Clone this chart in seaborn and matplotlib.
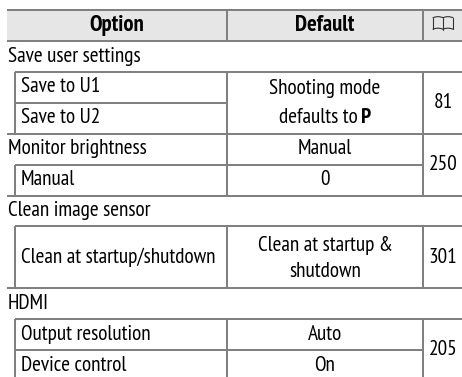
import matplotlib
matplotlib.use("Agg")
import matplotlib.pyplot as plt
import matplotlib.font_manager as fm
import numpy as np
import seaborn as sns

sns.set_theme(style="white")
installed = {f.name for f in fm.fontManager.ttflist}
FONT = next(n for n in ["PT Sans Narrow", "Open Sans Condensed", "Roboto Condensed", "Liberation Sans Narrow", "Open Sans"] if n in installed)
plt.rcParams["font.family"] = [FONT, "DejaVu Sans"]

# table content
header = ["Option", "Default"]
sections = ["Save user settings", "Monitor brightness", "Clean image sensor", "HDMI"]
section_rows = [1, 4, 6, 9]
options = ["Save to U1", "Save to U2", "Manual", "Clean at startup/shutdown", "Output resolution", "Device control"]
option_rows = [2, 3, 5, 7.5, 10, 11]
defaults = ["Manual", "0", "Auto", "On"]
default_rows = [4, 5, 10, 11]
pages = ["81", "250", "301", "205"]
page_rows = [2.5, 4.5, 7.5, 10.5]

W, H = 462, 377
TOP, ROW = 10.0, 30.92
X0, XI, X1, X2, X3 = 7, 15, 227, 423, 462
GREY = "#808080"
FS = 15.3
y = lambda r: TOP + r * ROW
yc = lambda r: y(r) + ROW / 2 - 0.3

fig = plt.figure(figsize=(W / 100, H / 100), dpi=100, facecolor="white")

# header shading through seaborn's heatmap
hax = fig.add_axes([X0 / W, 1 - y(1) / H, (X3 - X0) / W, ROW / H])
sns.heatmap(np.array([[1.0]]), ax=hax, cbar=False, cmap=["#e6e6e6"],
            xticklabels=False, yticklabels=False)

ax = fig.add_axes([0, 0, 1, 1])
ax.patch.set_alpha(0)
ax.set_xlim(0, W)
ax.set_ylim(H, 0)
ax.axis("off")

def h(r, a, b):
    ax.plot([a, b], [y(r), y(r)], color=GREY, lw=1.45, solid_capstyle="butt")

def v(x, r0, r1):
    ax.plot([x, x], [y(r0), min(y(r1), H)], color=GREY, lw=1.45, solid_capstyle="butt")

h(0, X0, X3); h(1, X0, X3)
h(2, XI, X3); h(3, XI, X1); h(4, X0, X3)
h(5, XI, X2); h(6, X0, X3); h(7, XI, X3)
h(9, X0, X3); h(10, XI, X3); h(11, XI, X2)
for x in (X1, X2):
    v(x, 0, 1); v(x, 2, 6); v(x, 7, 9); v(x, 10, 12)
v(XI, 2, 4); v(XI, 5, 6); v(XI, 7, 9); v(XI, 10, 12)

kw = dict(va="center", fontsize=FS, color="black")
bold = dict(va="center", fontsize=16.3, color="black", fontweight="bold")
XOPT, XDEF, XPAGE = 117, 325, 443
ax.text(XOPT, yc(0), header[0], ha="center", **bold)
ax.text(XDEF, yc(0), header[1], ha="center", **bold)
for s, r in zip(sections, section_rows):
    ax.text(8, yc(r), s, ha="left", **kw)
for s, r in zip(options, option_rows):
    ax.text(21, yc(r), s, ha="left", **kw)
for s, r in zip(defaults, default_rows):
    ax.text(XDEF, yc(r), s, ha="center", **kw)
for s, r in zip(pages, page_rows):
    ax.text(XPAGE, yc(r), s, ha="center", **kw)

ax.text(XDEF, yc(2.06), "Shooting mode", ha="center", **kw)
ax.text(XDEF, yc(7.12), "Clean at startup &", ha="center", **kw)
ax.text(XDEF, yc(7.97), "shutdown", ha="center", **kw)

# mixed-weight line, centred as a whole
fig.canvas.draw()
r = fig.canvas.get_renderer()
t1 = ax.text(0, yc(3), "defaults to", ha="left", **kw)
t2 = ax.text(0, yc(3), "P", ha="left", fontweight="bold", va="center", fontsize=FS, color="black")
w1 = t1.get_window_extent(r).width + 4
w2 = t2.get_window_extent(r).width
t1.set_x(XDEF - (w1 + w2) / 2)
t2.set_x(XDEF - (w1 + w2) / 2 + w1)

# book icon in the page column header
ic = dict(color="#333333", lw=0.8, solid_joinstyle="round")
bx, by = XPAGE, yc(0)
t = np.linspace(-1, 1, 20)
for sgn in (-1, 1):
    xs = bx + sgn * (t + 1) / 2 * 10
    ax.plot(xs, by - 7.5 - 1.0 * np.sin((t + 1) / 2 * np.pi), **ic)
    ax.plot(xs, by + 4.0 - 1.0 * np.sin((t + 1) / 2 * np.pi), **ic)
    ax.plot([bx + sgn * 10] * 2, [by - 7.5, by + 4.0], **ic)
ax.plot([bx, bx], [by - 7.5, by + 4.5], **ic)

fig.savefig("out.png", dpi=100, facecolor="white")
print(FONT)
